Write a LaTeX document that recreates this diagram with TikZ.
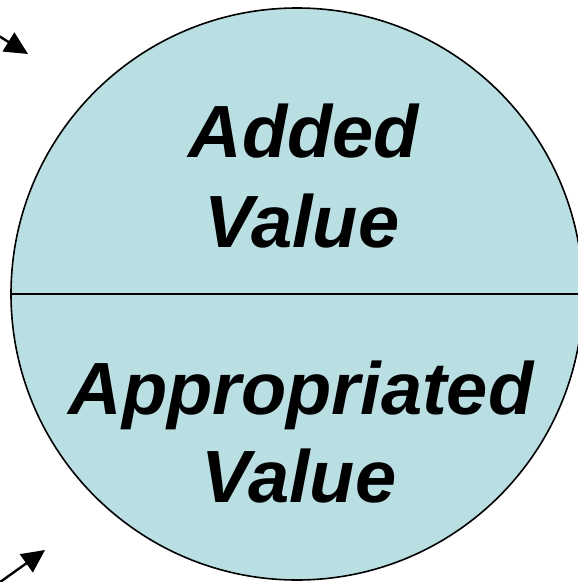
\documentclass[tikz,border=0pt]{standalone}
\usepackage{fontspec}
\setmainfont{Liberation Sans}
\usetikzlibrary{arrows.meta}
\definecolor{discfill}{RGB}{186,223,227}
\begin{document}
\begin{tikzpicture}[x=1pt,y=-1pt,
  disc/.style={circle,draw=black,line width=1.6pt,fill=discfill,inner sep=0pt,minimum size=572pt},
  label/.style={anchor=base,inner sep=0pt,font=\fontsize{74}{88}\selectfont\bfseries\itshape},
  pointer/.style={line width=2.4pt,-{Triangle[length=23pt,width=22pt]}}]
  \useasboundingbox (0,0) rectangle (578,582);
  \fill[white] (0,0) rectangle (578,582);
  % the value disc and its dividing line
  \node[disc] (disc) at (297,294) {};
  \draw[line width=1.6pt] (disc.west) -- (disc.east);
  % the two halves
  \node[label] (added) at (304,157) {Added};
  \node[label] (value1) at (302,247) {Value};
  \node[label] (approp) at (301,414) {Appropriated};
  \node[label] (value2) at (299,502) {Value};
  % arrows entering from the left
  \coordinate (tailA) at (-6,33);
  \coordinate (tipA) at (28,54);
  \coordinate (tailB) at (-4,585);
  \coordinate (tipB) at (45,550);
  \draw[pointer] (tailA) -- (tipA);
  \draw[pointer] (tailB) -- (tipB);
\end{tikzpicture}
\end{document}
